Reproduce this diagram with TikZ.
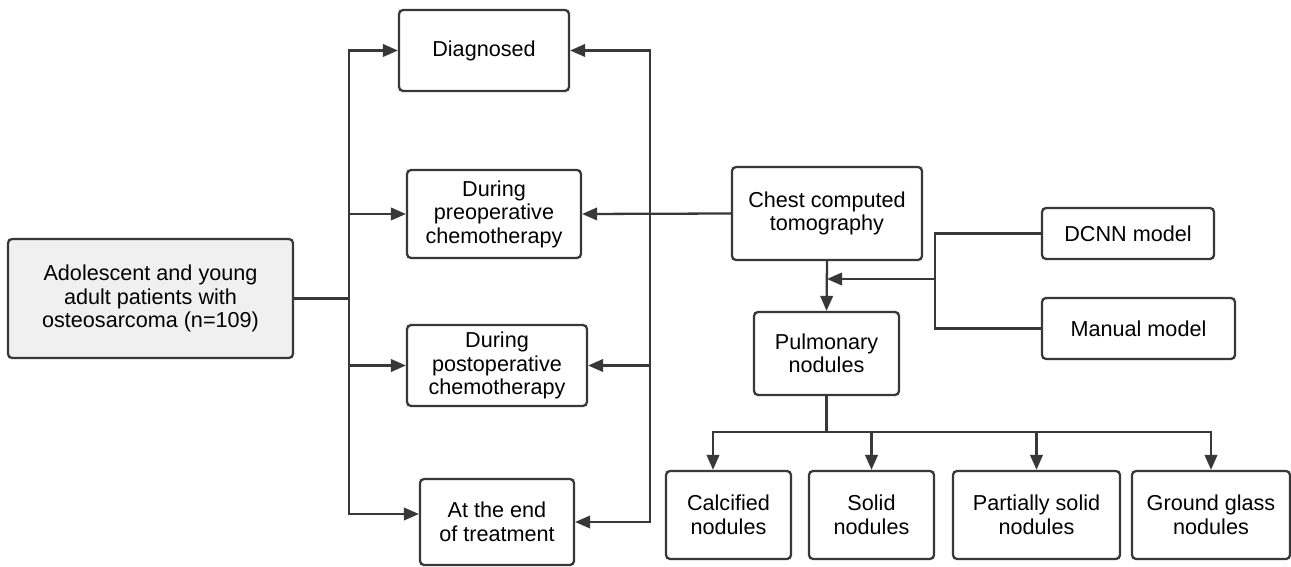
\documentclass[tikz,border=0pt]{standalone}
\usepackage{fontspec}
\setmainfont{Liberation Sans}
\usetikzlibrary{arrows.meta}
\definecolor{linegray}{HTML}{383838}
\begin{document}
\begin{tikzpicture}[x=0.02cm,y=-0.02cm,
    box/.style={draw=linegray, line width=1.3pt, rounded corners=0.08cm, align=center,
      inner sep=0pt, font=\fontsize{12.3}{13.4}\selectfont},
    arr/.style={-{Triangle[length=0.3cm,width=0.25cm]}},
    conn/.style={draw=linegray, line width=1.3pt}]

  \useasboundingbox (0,0) rectangle (1291,567);

  %stages of treatment
  \node[box, minimum width=3.4cm, minimum height=1.62cm] (diag) at (484,50.5) {Diagnosed};
  \node[box, minimum width=3.48cm, minimum height=1.76cm] (preop) at (494,214) {During\\preoperative\\chemotherapy};
  \node[box, minimum width=3.6cm, minimum height=1.62cm] (postop) at (497,365.5) {During\\postoperative\\chemotherapy};
  \node[box, minimum width=3.08cm, minimum height=1.72cm] (endtr) at (497,522) {At the end\\of treatment};

  %patients
  \node[box, fill=gray!12, minimum width=5.7cm, minimum height=2.38cm] (patients) at (150.5,298.5)
        {Adolescent and young\\adult patients with\\osteosarcoma (n=109)};

  %ct and models
  \node[box, minimum width=3.8cm, minimum height=1.86cm] (chest) at (827,213.5) {Chest computed\\tomography};
  \node[box, minimum width=2.9cm, minimum height=1.66cm] (pulm) at (826.5,353.5) {Pulmonary\\nodules};
  \node[box, minimum width=3.44cm, minimum height=1.02cm] (dcnn) at (1128,233.5) {DCNN model};
  \node[box, minimum width=3.86cm, minimum height=1.22cm] (manual) at (1138.5,328.5) {Manual model};

  %nodule types
  \node[box, minimum width=2.5cm, minimum height=1.76cm] (calc) at (728.5,515) {Calcified\\nodules};
  \node[box, minimum width=2.5cm, minimum height=1.76cm] (solid) at (871.5,515) {Solid\\nodules};
  \node[box, minimum width=3.34cm, minimum height=1.76cm] (partial) at (1036.5,515) {Partially solid\\nodules};
  \node[box, minimum width=3.16cm, minimum height=1.76cm] (ground) at (1211,515) {Ground glass\\nodules};

  %left branches
  \coordinate (jl) at (349,298.5);
  \draw[conn] (patients.east) -- (jl);
  \foreach \n in {diag,preop,postop}
    \draw[conn,arr] (jl) |- (\n.west);
  \draw[conn,arr] (jl) |- ([yshift=0.16cm]endtr.west);

  %right branches
  \coordinate (jr) at (650,214);
  \draw[conn,arr] (chest.west) -- (preop.east);
  \foreach \n in {diag,postop,endtr}
    \draw[conn,arr] (jr) |- (\n.east);

  %ct to nodules
  \draw[conn,arr] (chest.south) -- (pulm.north);
  \coordinate (jm) at (935,279);
  \draw[conn] (dcnn.west) -| (jm);
  \draw[conn] (manual.west) -| (jm);
  \draw[conn,arr] (jm) -- (chest.south |- jm);

  %nodule types
  \coordinate (bus) at (826.5,432);
  \draw[conn] (pulm.south) -- (bus);
  \draw[conn,arr] (bus) -| ([xshift=-0.31cm]calc.north);
  \draw[conn,arr] (bus) -| (ground.north);
  \foreach \n in {solid,partial}
    \draw[conn,arr] (\n.north |- bus) -- (\n.north);
\end{tikzpicture}
\end{document}
